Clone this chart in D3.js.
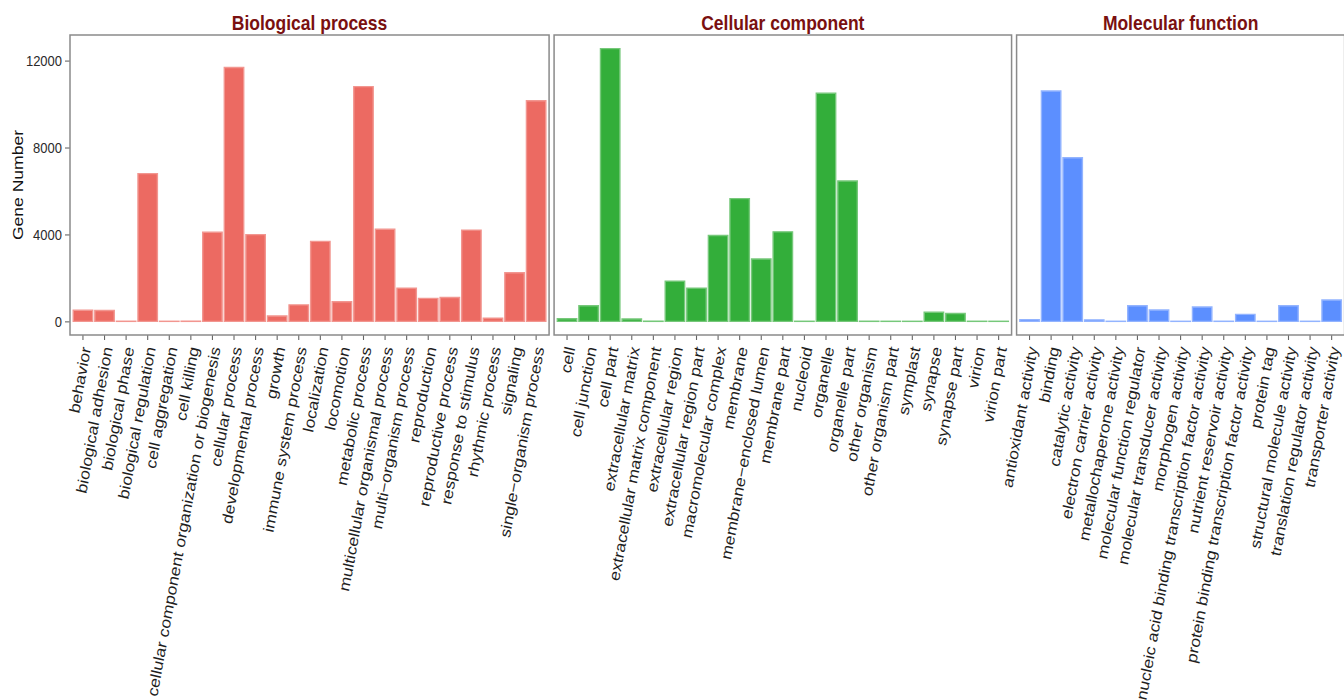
<!DOCTYPE html>
<html>
<head>
<meta charset="utf-8">
<script src="https://cdn.jsdelivr.net/npm/d3@7/dist/d3.min.js"></script>
<style>
  html, body { margin: 0; padding: 0; background: #fff; }
  svg { display: block; font-family: "Liberation Sans", Arial, sans-serif; }
</style>
</head>
<body>
<script>
// GO annotation: gene counts per term, grouped by ontology
const bpTerms = [
  "behavior", "biological adhesion", "biological phase", "biological regulation",
  "cell aggregation", "cell killing", "cellular component organization or biogenesis",
  "cellular process", "developmental process", "growth", "immune system process",
  "localization", "locomotion", "metabolic process", "multicellular organismal process",
  "multi\u2212organism process", "reproduction", "reproductive process",
  "response to stimulus", "rhythmic process", "signaling", "single\u2212organism process"
];
const bpCounts = [
  510, 500, 6, 6800, 4, 8, 4100, 11680, 3990, 250, 760,
  3680, 900, 10800, 4240, 1530, 1060, 1100, 4200, 150, 2240, 10150
];

const ccTerms = [
  "cell", "cell junction", "cell part", "extracellular matrix",
  "extracellular matrix component", "extracellular region", "extracellular region part",
  "macromolecular complex", "membrane", "membrane\u2212enclosed lumen", "membrane part",
  "nucleoid", "organelle", "organelle part", "other organism", "other organism part",
  "symplast", "synapse", "synapse part", "virion", "virion part"
];
const ccCounts = [
  120, 720, 12550, 110, 8, 1850, 1530, 3950, 5650, 2870, 4120,
  5, 10500, 6460, 6, 4, 3, 420, 360, 5, 4
];

const mfTerms = [
  "antioxidant activity", "binding", "catalytic activity", "electron carrier activity",
  "metallochaperone activity", "molecular function regulator",
  "molecular transducer activity", "morphogen activity",
  "nucleic acid binding transcription factor activity", "nutrient reservoir activity",
  "protein binding transcription factor activity", "protein tag",
  "structural molecule activity", "translation regulator activity", "transporter activity"
];
const mfCounts = [
  80, 10600, 7530, 70, 5, 720, 520, 4, 660, 6, 320, 4, 720, 5, 980
];

const panelTitles = ["Biological process", "Cellular component", "Molecular function"];
const panelFills = ["#EC6A62", "#33AE3A", "#5C8FFF"];
const panelEdges = ["#F29690", "#76C87A", "#93B4FF"];
const yTicks = [0, 4000, 8000, 12000];

const W = 1344, H = 700;
const stretch = 1.17;            // vertical text stretch
const plotTop = 35, plotBottom = 335, plotLeft = 70, gap = 5, plotRight = 1344.6;

const panels = [
  { title: panelTitles[0], terms: bpTerms, counts: bpCounts, fill: panelFills[0], edge: panelEdges[0] },
  { title: panelTitles[1], terms: ccTerms, counts: ccCounts, fill: panelFills[1], edge: panelEdges[1] },
  { title: panelTitles[2], terms: mfTerms, counts: mfCounts, fill: panelFills[2], edge: panelEdges[2] }
];

const svg = d3.select("body").append("svg").attr("width", W).attr("height", H);

const maxCount = d3.max(panels, p => d3.max(p.counts));
const y = d3.scaleLinear()
  .domain([-0.05 * maxCount, 1.05 * maxCount])
  .range([plotBottom, plotTop]);

// panel widths proportional to the number of terms (free x space)
const totalUnits = d3.sum(panels, p => p.terms.length + 0.2);
const unitPx = (plotRight - plotLeft - gap * (panels.length - 1)) / totalUnits;

let x0 = plotLeft;
panels.forEach((p, i) => {
  const w = (p.terms.length + 0.2) * unitPx;
  const x = d3.scaleBand()
    .domain(p.terms)
    .range([x0, x0 + w])
    .paddingInner(0.1)
    .paddingOuter(0.15);
  const g = svg.append("g");

  // bars (paths so that zero-height bars still show their outline)
  g.selectAll("path.bar")
    .data(p.terms.map((t, j) => ({ term: t, value: p.counts[j] })))
    .join("path")
    .attr("class", "bar")
    .attr("d", d => {
      const bx = x(d.term), bw = x.bandwidth();
      const y0 = y(0), y1 = y(d.value);
      return `M${bx},${y0}H${bx + bw}V${y1}H${bx}Z`;
    })
    .attr("fill", p.fill)
    .attr("stroke", p.edge)
    .attr("stroke-width", 1.4);

  // x axis with slanted term labels
  const xa = g.append("g")
    .attr("transform", `translate(0,${plotBottom})`)
    .call(d3.axisBottom(x).tickSize(5).tickSizeOuter(0));
  xa.select(".domain").remove();
  xa.selectAll(".tick line").attr("stroke", "#666").attr("stroke-width", 1.1);
  xa.selectAll(".tick text")
    .attr("x", null).attr("y", null)
    .attr("dy", "0.35em")
    .attr("text-anchor", "end")
    .attr("transform", `translate(3,12) scale(1,${stretch}) rotate(-78)`)
    .attr("fill", "#1e1e1e")
    .style("font-size", "15px");

  // y axis on the first panel only
  if (i === 0) {
    const ya = g.append("g")
      .attr("transform", `translate(${x0},0)`)
      .call(d3.axisLeft(y).tickValues(yTicks).tickSize(5).tickFormat(d3.format("d")));
    ya.select(".domain").remove();
    ya.selectAll(".tick line").attr("stroke", "#666").attr("stroke-width", 1.1);
    ya.selectAll(".tick text")
      .attr("x", -8)
      .attr("transform", `scale(1,${stretch})`)
      .attr("fill", "#2a2a2a")
      .style("font-size", "13px");
  }

  // panel border
  g.append("rect")
    .attr("x", x0).attr("y", plotTop)
    .attr("width", w).attr("height", plotBottom - plotTop)
    .attr("fill", "none")
    .attr("stroke", "#8a8a8a")
    .attr("stroke-width", 1.5);

  // strip title
  svg.append("text")
    .attr("transform", `translate(${x0 + w / 2},30) scale(1,${stretch})`)
    .attr("text-anchor", "middle")
    .attr("fill", "#7a1010")
    .style("font-size", "17.5px")
    .style("font-weight", "bold")
    .text(p.title);

  x0 += w + gap;
});

// y axis title
svg.append("text")
  .attr("transform", `translate(18,${(plotTop + plotBottom) / 2}) scale(1,${stretch}) rotate(-90)`)
  .attr("text-anchor", "middle")
  .attr("dy", "0.35em")
  .attr("fill", "#111")
  .style("font-size", "15px")
  .text("Gene Number");
</script>
</body>
</html>
